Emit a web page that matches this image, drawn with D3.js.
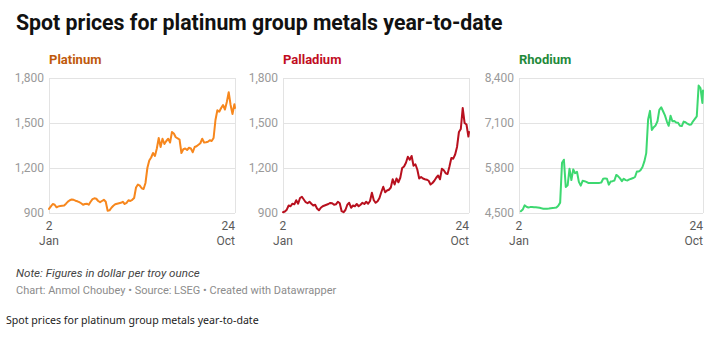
<!DOCTYPE html>
<html>
<head>
<meta charset="utf-8">
<script src="https://cdn.jsdelivr.net/npm/d3@7"></script>
<style>
  html, body { margin: 0; padding: 0; background: #fff; }
  svg { display: block; font-family: Roboto, "Noto Sans", sans-serif; }
</style>
</head>
<body>
<script>
// ---------- DATA ----------
const chartTitle = "Spot prices for platinum group metals year-to-date";
const noteText = "Note: Figures in dollar per troy ounce";
const creditText = "Chart: Anmol Choubey \u2022 Source: LSEG \u2022 Created with Datawrapper";
const captionText = "Spot prices for platinum group metals year-to-date";

const metals = ["Platinum", "Palladium", "Rhodium"];

const dates = [
"2025-01-02","2025-01-05","2025-01-08","2025-01-11","2025-01-14","2025-01-17","2025-01-20","2025-01-23","2025-01-26","2025-01-29",
"2025-02-01","2025-02-04","2025-02-07","2025-02-10","2025-02-13","2025-02-16","2025-02-19","2025-02-22","2025-02-25","2025-02-28",
"2025-03-03","2025-03-06","2025-03-09","2025-03-12","2025-03-15","2025-03-18","2025-03-21","2025-03-24","2025-03-27","2025-03-30",
"2025-04-02","2025-04-05","2025-04-08","2025-04-11","2025-04-14","2025-04-17","2025-04-20","2025-04-23","2025-04-26","2025-04-29",
"2025-05-02","2025-05-05","2025-05-08","2025-05-11","2025-05-14","2025-05-17","2025-05-20","2025-05-23","2025-05-26","2025-05-29",
"2025-06-01","2025-06-04","2025-06-07","2025-06-10","2025-06-13","2025-06-16","2025-06-19","2025-06-22","2025-06-25","2025-06-28",
"2025-07-01","2025-07-04","2025-07-07","2025-07-10","2025-07-13","2025-07-16","2025-07-19","2025-07-22","2025-07-25","2025-07-28",
"2025-07-31","2025-08-03","2025-08-06","2025-08-09","2025-08-12","2025-08-15","2025-08-18","2025-08-21","2025-08-24","2025-08-27",
"2025-08-30","2025-09-02","2025-09-05","2025-09-08","2025-09-11","2025-09-14","2025-09-17","2025-09-20","2025-09-23","2025-09-26",
"2025-09-29","2025-10-02","2025-10-05","2025-10-08","2025-10-11","2025-10-14","2025-10-17","2025-10-20","2025-10-23","2025-10-24"
];

const platinum = [
927,944,960,955,938,944,947,949,950,962,
976,985,990,988,982,978,972,965,955,960,
962,955,975,992,998,995,980,972,980,988,
975,915,918,935,948,958,962,965,968,975,
960,968,985,980,988,1000,1070,1090,1082,1065,
1060,1100,1200,1250,1270,1300,1280,1330,1400,1340,
1395,1360,1380,1395,1370,1440,1430,1405,1398,1390,
1300,1325,1330,1320,1335,1330,1305,1340,1345,1355,
1365,1395,1370,1372,1375,1385,1380,1400,1520,1585,
1575,1600,1620,1590,1640,1705,1620,1560,1625,1600
];

const palladium = [
905,910,922,950,945,962,958,985,962,1000,
1008,990,972,965,975,962,950,955,930,918,
935,945,950,955,960,967,965,955,958,975,
965,912,905,920,955,968,935,950,945,960,
945,955,968,960,975,962,980,1035,985,968,
978,1000,1040,1075,1038,1050,1055,1070,1125,1090,
1130,1105,1135,1200,1210,1235,1275,1255,1280,1215,
1225,1190,1130,1140,1130,1125,1122,1115,1090,1100,
1115,1135,1150,1125,1195,1185,1165,1160,1210,1267,
1262,1290,1340,1440,1460,1600,1500,1490,1410,1440
];

const rhodium = [
null,4550,4600,4720,4680,4660,4670,4670,4665,4668,
4660,4650,4635,4625,4625,4625,4630,4640,4645,4650,
4660,4710,4800,5950,6040,5250,5300,5780,5450,5760,
5650,5690,5400,5290,5430,5420,5400,5370,5365,5365,
5365,5365,5365,5370,5380,5490,5500,5490,5320,5410,
5420,5440,5600,5560,5500,5420,5490,5450,5440,5470,
5490,5510,5540,5700,5700,5740,5830,5990,6230,7200,
7450,6900,6980,7030,7150,7480,7555,7440,7320,7150,
7020,7310,7150,7160,7115,7105,7020,7010,7140,7120,
7080,7050,7055,7150,7220,7290,8180,8110,7680,8040
];

const pgmTicks = [900, 1200, 1500, 1800];
const rhodiumTicks = [4500, 5800, 7100, 8400];

const xTickDates = ["2025-01-02", "2025-10-24"];
const xTickDayLabels = ["2", "24"];
const xTickMonthLabels = ["Jan", "Oct"];

// ---------- STYLE ----------
const lineColors = ["#f7871d", "#b8101e", "#3dd870"];
const titleColors = ["#bf5a0c", "#c10d1f", "#1f8a3a"];

const W = 717, H = 340;
const parse = d3.timeParse("%Y-%m-%d");
const dateObjs = dates.map(parse);
const seriesValues = [platinum, palladium, rhodium];
const seriesTicks = [pgmTicks, pgmTicks, rhodiumTicks];
const labelWidths = [33, 33, 35];

const svg = d3.select("body").append("svg").attr("width", W).attr("height", H);

// Title
svg.append("text").attr("x", 16).attr("y", 30)
  .attr("font-size", 21.3).attr("font-weight", 700).attr("fill", "#111")
  .text(chartTitle);

const panel = d3.scaleBand().domain(metals).range([16, 703]).paddingInner(0.064);
const plotTop = 78, plotBottom = 213;

metals.forEach((name, i) => {
  const left = panel(name) + labelWidths[i];
  const right = panel(name) + panel.bandwidth();
  const g = svg.append("g");
  const ticks = seriesTicks[i];

  const x = d3.scaleTime().domain(d3.extent(xTickDates.map(parse))).range([left, right]);
  const y = d3.scaleLinear().domain(d3.extent(ticks)).range([plotBottom, plotTop]);

  // panel title
  g.append("text").attr("x", left).attr("y", 64)
    .attr("font-size", 13).attr("font-weight", 700).attr("fill", titleColors[i])
    .text(name);

  // horizontal grid + y labels
  const ya = g.append("g").attr("transform", `translate(${left},0)`)
    .call(d3.axisLeft(y).tickValues(ticks).tickSize(-(right - left)).tickPadding(5).tickFormat(d3.format(",")));
  ya.select(".domain").remove();
  ya.selectAll("line").attr("stroke", "#e3e3e3");
  ya.selectAll("text").attr("font-size", 12).attr("fill", "#9a9a9a").attr("font-family", "Roboto, sans-serif");

  // vertical grid at x ticks
  const xa = g.append("g").attr("transform", `translate(0,${plotBottom})`)
    .call(d3.axisBottom(x).tickValues(xTickDates.map(parse)).tickSize(-(plotBottom - plotTop)).tickFormat(""));
  xa.select(".domain").remove();
  xa.selectAll("line").attr("stroke", "#e3e3e3");

  // x labels
  xTickDates.forEach((ds, j) => {
    const tx = x(parse(ds));
    const anchor = j === 0 ? "middle" : "end";
    const xx = j === 0 ? tx : right;
    g.append("text").attr("x", xx).attr("y", 230).attr("text-anchor", anchor)
      .attr("font-size", 12).attr("fill", "#5a5a5a").text(xTickDayLabels[j]);
    g.append("text").attr("x", xx).attr("y", 245).attr("text-anchor", anchor)
      .attr("font-size", 12).attr("fill", "#5a5a5a").text(xTickMonthLabels[j]);
  });

  // line
  const data = dateObjs.map((d, k) => ({ d, v: seriesValues[i][k] }));
  const line = d3.line().defined(p => p.v != null).x(p => x(p.d)).y(p => y(p.v));
  g.append("path").datum(data).attr("d", line)
    .attr("fill", "none").attr("stroke", lineColors[i]).attr("stroke-width", 2)
    .attr("stroke-linejoin", "round").attr("stroke-linecap", "round");
});

// Footer
svg.append("text").attr("x", 16).attr("y", 277)
  .attr("font-size", 11.6).attr("font-style", "italic").attr("fill", "#444").text(noteText);
svg.append("text").attr("x", 16).attr("y", 294)
  .attr("font-size", 11).attr("fill", "#8c8c8c").text(creditText);
svg.append("text").attr("x", 6).attr("y", 324)
  .attr("font-size", 10.6).attr("fill", "#222").attr("font-family", "'Noto Sans', sans-serif").text(captionText);
</script>
</body>
</html>
